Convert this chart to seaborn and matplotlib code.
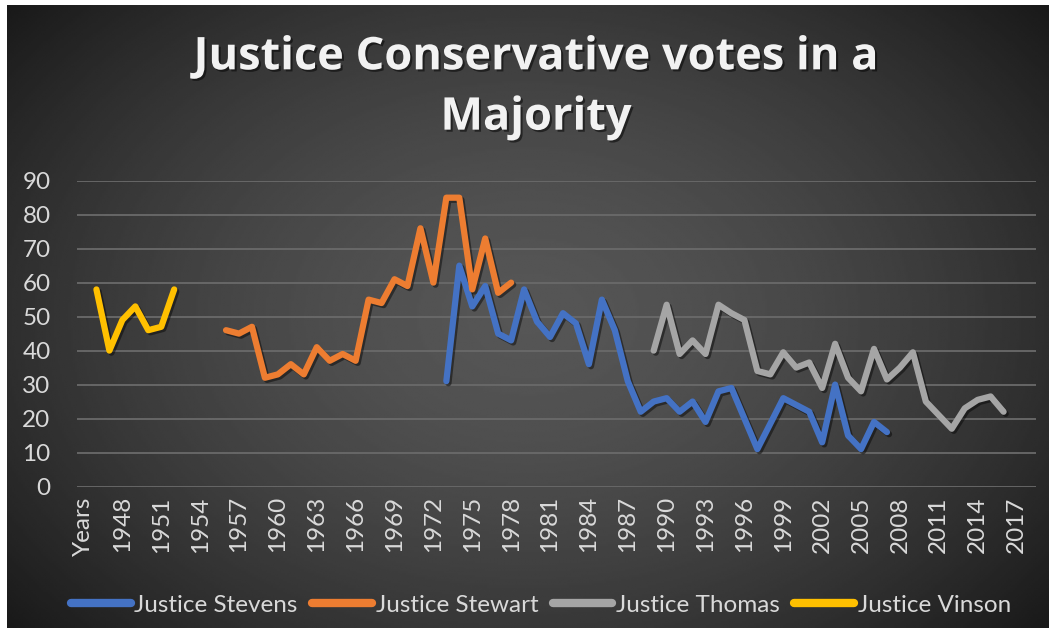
import numpy as np
import pandas as pd
import matplotlib
matplotlib.use("Agg")
import matplotlib.pyplot as plt
import matplotlib.patheffects as pe
from matplotlib.lines import Line2D
import seaborn as sns

# category axis: a "Years" header cell followed by one cell per year
first_year, last_year = 1946, 2018
categories = ["Years"] + [str(y) for y in range(first_year, last_year + 1)]

# conservative votes in a majority
stevens_start = 1973
stevens = [31, 65, 53, 59, 45, 43, 58, 48.5, 44, 51, 48, 36, 55, 46, 31,
           22, 25, 26, 22, 25, 19, 28, 29, 20, 11, 18.5, 26, 24, 22, 13,
           30, 15, 11, 19, 16]
stewart_start = 1956
stewart = [46, 45, 47, 32, 33, 36, 33, 41, 37, 39, 37, 55, 54, 61, 59,
           76, 60, 85, 85, 58, 73, 57, 60]
thomas_start = 1989
thomas = [40, 53.5, 39, 43, 39, 53.5, 51, 49, 34, 33, 39.5, 35, 36.5, 29,
          42, 32, 28, 40.5, 31.5, 35, 39.5, 25, 21, 17, 23, 25.5, 26.5, 22]
vinson_start = 1946
vinson = [58, 40, 49, 53, 46, 47, 58]

justices = ["Justice Stevens", "Justice Stewart", "Justice Thomas", "Justice Vinson"]
colors = ["#4472C4", "#ED7D31", "#A5A5A5", "#FFC000"]


def to_rows(name, start, values):
    rows = []
    for i, v in enumerate(values):
        year = str(start + i)
        rows.append({"justice": name, "pos": categories.index(year), "votes": v})
    return rows


rows = (to_rows(justices[0], stevens_start, stevens)
        + to_rows(justices[1], stewart_start, stewart)
        + to_rows(justices[2], thomas_start, thomas)
        + to_rows(justices[3], vinson_start, vinson))
df = pd.DataFrame(rows)

sns.set_theme(style="white")
plt.rcParams["font.family"] = ["Lato", "DejaVu Sans"]

W, H = 1056, 632
fig = plt.figure(figsize=(W / 100, H / 100), dpi=100)
fig.patch.set_facecolor("white")

# dark radial gradient card (Excel dark style)
bg = fig.add_axes([7 / W, 1 - 628 / H, (1049 - 7) / W, (628 - 5) / H])
bg.axis("off")
gy, gx = np.mgrid[0:1:300j, 0:1:500j]
r = np.sqrt(((gx - 0.5) / 0.55) ** 2 + ((gy - 0.5) / 0.65) ** 2)
shade = 86 - 46 * np.clip(r, 0, 1.3) ** 1.6
bg.imshow(shade, cmap="gray", vmin=0, vmax=255, aspect="auto",
          extent=[0, 1, 0, 1], interpolation="bilinear")
bg.set_xlim(0, 1)
bg.set_ylim(0, 1)

ax = fig.add_axes([77 / W, 1 - 486.5 / H, (1036 - 77) / W, (486.5 - 180.7) / H])
ax.patch.set_alpha(0)

sns.lineplot(data=df, x="pos", y="votes", hue="justice", hue_order=justices,
             palette=colors, linewidth=4.5, legend=False, ax=ax,
             solid_capstyle="round", solid_joinstyle="round")
for line in ax.lines:
    line.set_path_effects([pe.SimpleLineShadow(offset=(1.5, -1.5), shadow_color="black", alpha=0.45),
                           pe.Normal()])

ax.set_xlim(-0.5, len(categories) - 0.5)
ax.set_ylim(0, 90)
ax.set_yticks(range(0, 91, 10))
ax.set_xticks(range(0, len(categories), 3))
ax.set_xticklabels(categories[::3], rotation=90)
ax.set_xlabel("")
ax.set_ylabel("")
ax.yaxis.grid(True, color="#6a6a6a", linewidth=1.3)
ax.set_axisbelow(True)
for s in ax.spines.values():
    s.set_visible(False)
ax.tick_params(axis="both", length=0, labelsize=17.5, labelcolor="#d9d9d9")
ax.tick_params(axis="y", pad=19)
ax.tick_params(axis="x", pad=7)

fig.text(536 / W, 1 - 88 / H, "Justice Conservative votes in a\nMajority",
         ha="center", va="center", fontsize=32.5, fontweight="bold",
         family=["Open Sans", "DejaVu Sans"],
         color="#f2f2f2", linespacing=1.45,
         path_effects=[pe.withSimplePatchShadow(offset=(1.5, -1.5), shadow_rgbFace="black", alpha=0.5)])

handles = [Line2D([], [], color=c, linewidth=6, solid_capstyle="round") for c in colors]
leg = fig.legend(handles, justices, loc="center", bbox_to_anchor=(541 / W, 1 - 605 / H),
                 ncol=4, frameon=False, fontsize=17.5, handlelength=2.45,
                 handletextpad=0.15, columnspacing=0.6)
for t in leg.get_texts():
    t.set_color("#d9d9d9")

fig.savefig("out.png", dpi=100)
